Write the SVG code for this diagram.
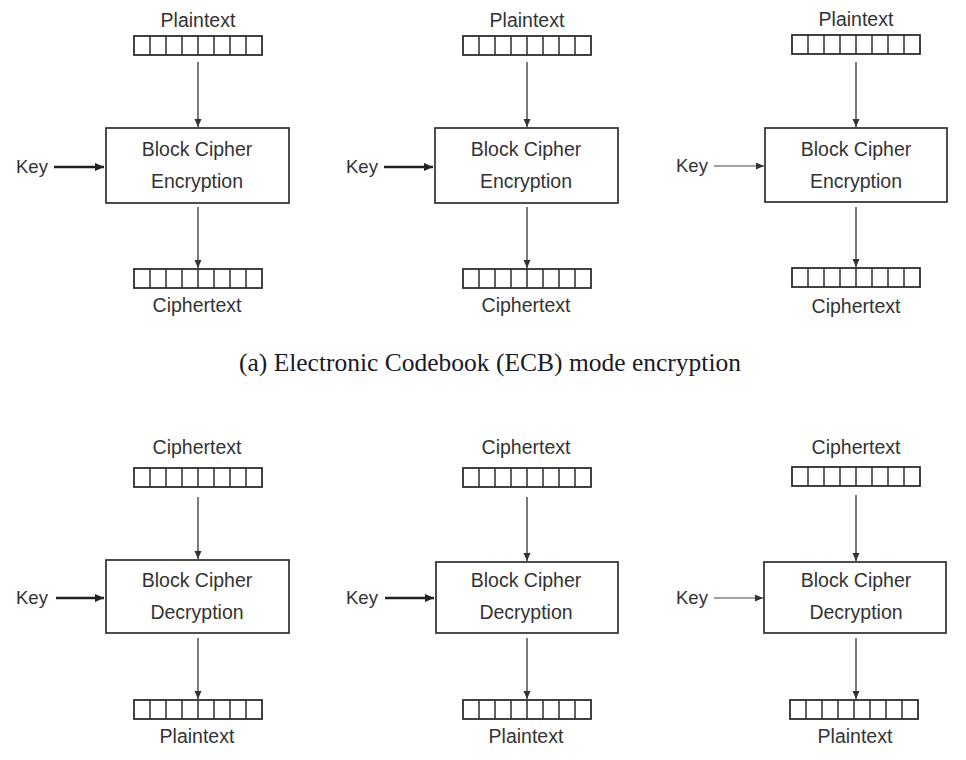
<svg xmlns="http://www.w3.org/2000/svg" xmlns:xlink="http://www.w3.org/1999/xlink" width="966" height="760" viewBox="0 0 966 760">
<style>
  .lbl { font-family: "Liberation Sans", Arial, sans-serif; font-size: 19.5px; fill: #333333; text-anchor: middle; }
  .key { font-family: "Liberation Sans", Arial, sans-serif; font-size: 18.5px; fill: #333333; }
  .box { fill: #ffffff; stroke: #2e2e2e; stroke-width: 1.7; }
  .reg { fill: #ffffff; stroke: #2e2e2e; stroke-width: 1.8; }
  .cell { stroke: #2e2e2e; stroke-width: 1.5; }
  .flow { stroke: #333333; stroke-width: 1.3; fill: none; }
  .keyT { stroke: #222222; stroke-width: 2.3; fill: none; }
  .keyN { stroke: #444444; stroke-width: 1.2; fill: none; }
  .cap { font-family: "Liberation Serif", "Times New Roman", serif; font-size: 25.5px; fill: #1a1a26; text-anchor: middle; }
</style>
<defs>
  <marker id="ah" markerWidth="8" markerHeight="8" refX="8" refY="4" orient="auto" markerUnits="userSpaceOnUse">
    <path d="M0,0.5 L8,4 L0,7.5 Z" fill="#333333"/>
  </marker>
  <marker id="ahk" markerWidth="10" markerHeight="10" refX="9" refY="5" orient="auto" markerUnits="userSpaceOnUse">
    <path d="M0,1 L9,5 L0,9 Z" fill="#222222"/>
  </marker>
  <g id="register">
    <rect class="reg" x="0" y="0" width="128" height="19"/>
    <path class="cell" d="M16,0V19M32,0V19M48,0V19M64,0V19M80,0V19M96,0V19M112,0V19"/>
  </g>
</defs>
<rect width="966" height="760" fill="#ffffff"/>

<g id="connectors">
  <!-- encryption row -->
  <line class="flow" x1="198" y1="62" x2="198" y2="127" marker-end="url(#ah)"/>
  <line class="flow" x1="198" y1="207" x2="198" y2="268" marker-end="url(#ah)"/>
  <line class="keyT" x1="54" y1="167" x2="104" y2="167" marker-end="url(#ahk)"/>
  <line class="flow" x1="527" y1="62" x2="527" y2="127" marker-end="url(#ah)"/>
  <line class="flow" x1="527" y1="207" x2="527" y2="268" marker-end="url(#ah)"/>
  <line class="keyT" x1="384" y1="167" x2="433" y2="167" marker-end="url(#ahk)"/>
  <line class="flow" x1="856" y1="62" x2="856" y2="127" marker-end="url(#ah)"/>
  <line class="flow" x1="856" y1="207" x2="856" y2="267" marker-end="url(#ah)"/>
  <line class="keyN" x1="714" y1="166" x2="764" y2="166" marker-end="url(#ah)"/>
  <!-- decryption row -->
  <line class="flow" x1="198" y1="497" x2="198" y2="559" marker-end="url(#ah)"/>
  <line class="flow" x1="198" y1="638" x2="198" y2="699" marker-end="url(#ah)"/>
  <line class="keyT" x1="56" y1="598" x2="104" y2="598" marker-end="url(#ahk)"/>
  <line class="flow" x1="527" y1="497" x2="527" y2="561" marker-end="url(#ah)"/>
  <line class="flow" x1="527" y1="638" x2="527" y2="699" marker-end="url(#ah)"/>
  <line class="keyT" x1="385" y1="598" x2="434" y2="598" marker-end="url(#ahk)"/>
  <line class="flow" x1="856" y1="495" x2="856" y2="561" marker-end="url(#ah)"/>
  <line class="flow" x1="856" y1="638" x2="856" y2="699" marker-end="url(#ah)"/>
  <line class="keyN" x1="714" y1="598" x2="763" y2="598" marker-end="url(#ah)"/>
</g>

<!-- Encryption column 1 -->
<g id="enc1-plain">
  <text class="lbl" x="198" y="27">Plaintext</text>
  <use xlink:href="#register" href="#register" x="134" y="36"/>
</g>
<g id="enc1-key"><text class="key" x="16" y="173">Key</text></g>
<g id="enc1-cipher-block">
  <rect class="box" x="106" y="128" width="183" height="75"/>
  <text class="lbl" x="197" y="156">Block Cipher</text>
  <text class="lbl" x="197" y="188">Encryption</text>
</g>
<g id="enc1-ct">
  <use xlink:href="#register" href="#register" x="134" y="269"/>
  <text class="lbl" x="197" y="312">Ciphertext</text>
</g>

<!-- Encryption column 2 -->
<g id="enc2-plain">
  <text class="lbl" x="527" y="27">Plaintext</text>
  <use xlink:href="#register" href="#register" x="463" y="36"/>
</g>
<g id="enc2-key"><text class="key" x="346" y="173">Key</text></g>
<g id="enc2-cipher-block">
  <rect class="box" x="435" y="128" width="183" height="75"/>
  <text class="lbl" x="526" y="156">Block Cipher</text>
  <text class="lbl" x="526" y="188">Encryption</text>
</g>
<g id="enc2-ct">
  <use xlink:href="#register" href="#register" x="463" y="269"/>
  <text class="lbl" x="526" y="312">Ciphertext</text>
</g>

<!-- Encryption column 3 -->
<g id="enc3-plain">
  <text class="lbl" x="856" y="26">Plaintext</text>
  <use xlink:href="#register" href="#register" x="792" y="35"/>
</g>
<g id="enc3-key"><text class="key" x="676" y="172">Key</text></g>
<g id="enc3-cipher-block">
  <rect class="box" x="765" y="128" width="182" height="74"/>
  <text class="lbl" x="856" y="156">Block Cipher</text>
  <text class="lbl" x="856" y="188">Encryption</text>
</g>
<g id="enc3-ct">
  <use xlink:href="#register" href="#register" x="792" y="268"/>
  <text class="lbl" x="856" y="313">Ciphertext</text>
</g>

<!-- Caption -->
<g id="caption">
  <text class="cap" x="490" y="371">(a) Electronic Codebook (ECB) mode encryption</text>
</g>

<!-- Decryption column 1 -->
<g id="dec1-ct">
  <text class="lbl" x="197" y="454">Ciphertext</text>
  <use xlink:href="#register" href="#register" x="134" y="468"/>
</g>
<g id="dec1-key"><text class="key" x="16" y="604">Key</text></g>
<g id="dec1-cipher-block">
  <rect class="box" x="106" y="560" width="183" height="73"/>
  <text class="lbl" x="197" y="587">Block Cipher</text>
  <text class="lbl" x="197" y="619">Decryption</text>
</g>
<g id="dec1-plain">
  <use xlink:href="#register" href="#register" x="134" y="700"/>
  <text class="lbl" x="197" y="743">Plaintext</text>
</g>

<!-- Decryption column 2 -->
<g id="dec2-ct">
  <text class="lbl" x="526" y="454">Ciphertext</text>
  <use xlink:href="#register" href="#register" x="463" y="468"/>
</g>
<g id="dec2-key"><text class="key" x="346" y="604">Key</text></g>
<g id="dec2-cipher-block">
  <rect class="box" x="436" y="562" width="182" height="71"/>
  <text class="lbl" x="526" y="587">Block Cipher</text>
  <text class="lbl" x="526" y="619">Decryption</text>
</g>
<g id="dec2-plain">
  <use xlink:href="#register" href="#register" x="463" y="700"/>
  <text class="lbl" x="526" y="743">Plaintext</text>
</g>

<!-- Decryption column 3 -->
<g id="dec3-ct">
  <text class="lbl" x="856" y="454">Ciphertext</text>
  <use xlink:href="#register" href="#register" x="792" y="467"/>
</g>
<g id="dec3-key"><text class="key" x="676" y="604">Key</text></g>
<g id="dec3-cipher-block">
  <rect class="box" x="764" y="562" width="182" height="71"/>
  <text class="lbl" x="856" y="587">Block Cipher</text>
  <text class="lbl" x="856" y="619">Decryption</text>
</g>
<g id="dec3-plain">
  <use xlink:href="#register" href="#register" x="790" y="700"/>
  <text class="lbl" x="855" y="743">Plaintext</text>
</g>
</svg>
